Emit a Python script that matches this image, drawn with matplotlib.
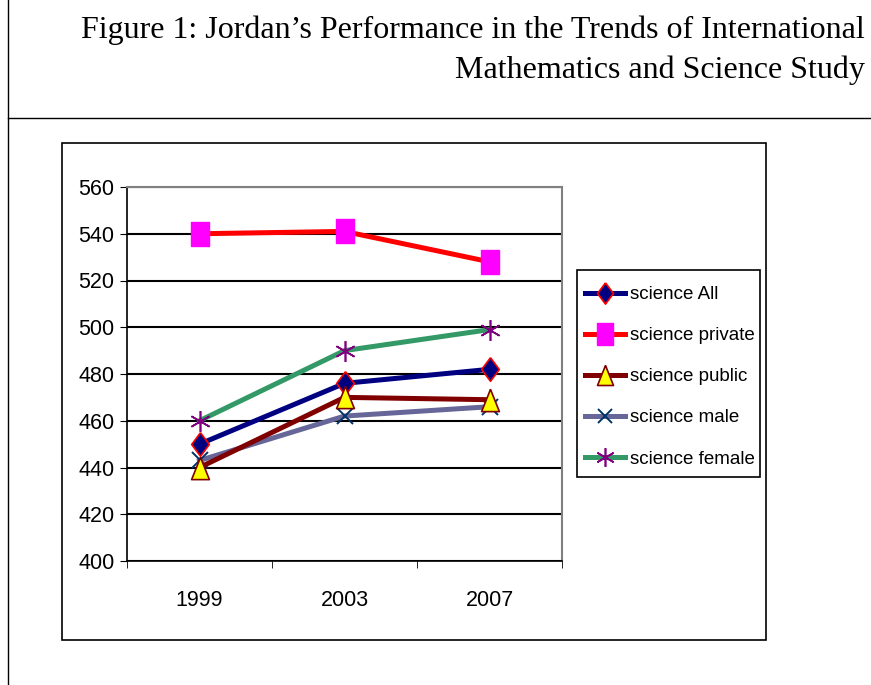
import matplotlib.pyplot as plt
from matplotlib.lines import Line2D
from matplotlib.patches import Rectangle

# data
years = ["1999", "2003", "2007"]
science_all = [450, 476, 482]
science_private = [540, 541, 528]
science_public = [440, 470, 469]
science_male = [443, 462, 466]
science_female = [460, 490, 499]
y_ticks = [400, 420, 440, 460, 480, 500, 520, 540, 560]

W, H = 871, 685
SANS = ["Liberation Sans", "DejaVu Sans"]
fig = plt.figure(figsize=(W / 100, H / 100), dpi=100)


def px(x0, y0, x1, y1):
    # pixel box -> figure fraction rect
    return [x0 / W, 1 - y1 / H, (x1 - x0) / W, (y1 - y0) / H]


# custom (tall) marker shapes like the Excel ones
tall_diamond = [(0, 1), (0.75, 0), (0, -1), (-0.75, 0), (0, 1)]
tall_square = [(-0.75, -1), (0.75, -1), (0.75, 1), (-0.75, 1), (-0.75, -1)]
tall_triangle = [(0, 1), (0.8, -1), (-0.8, -1), (0, 1)]

# outer page lines
fig.add_artist(Line2D([8 / W, 8 / W], [0, 1], color="black", lw=1))
fig.add_artist(Line2D([8 / W, 1], [1 - 118 / H, 1 - 118 / H], color="black", lw=1))

# title
fig.text(865 / W, 1 - 30 / H, "Figure 1: Jordan\u2019s Performance in the Trends of International",
         ha="right", va="center", family="Liberation Serif", fontsize=23)
fig.text(865 / W, 1 - 70 / H, "Mathematics and Science Study",
         ha="right", va="center", family="Liberation Serif", fontsize=23)

# chart frame and legend frame
fig.add_artist(Rectangle((62 / W, 1 - 640 / H), (766 - 62) / W, (640 - 143) / H,
                         transform=fig.transFigure, fill=False, ec="black", lw=1.2))
fig.add_artist(Rectangle((577 / W, 1 - 477 / H), (760 - 577) / W, (477 - 270) / H,
                         transform=fig.transFigure, fill=False, ec="black", lw=1.2))

ax = fig.add_axes(px(127, 187, 562, 561))
x = list(range(len(years)))

ax.plot(x, science_all, color="#000080", lw=3.6, marker=tall_diamond, ms=17,
        mfc="#000080", mec="#FF0000", mew=1.2, label="science All", zorder=5)
ax.plot(x, science_private, color="#FF0000", lw=3.6, marker=tall_square, ms=17,
        mfc="#FF00FF", mec="#FF00FF", label="science private", zorder=4)
ax.plot(x, science_public, color="#800000", lw=3.6, marker=tall_triangle, ms=16,
        mfc="#FFFF00", mec="#800000", mew=1.2, label="science public", zorder=6)
ax.plot(x, science_male, color="#666699", lw=3.6, marker="x", ms=11,
        mec="#003366", mew=1.4, label="science male", zorder=3)
ax.plot(x, science_female, color="#339966", lw=3.6, marker=(6, 2, 0), ms=15,
        mec="#800080", mew=1.2, label="science female", zorder=3)

ax.set_xlim(-0.5, 2.5)
ax.set_ylim(400, 560)
ax.set_yticks(y_ticks)
ax.set_yticklabels([str(v) for v in y_ticks], family=SANS, fontsize=15.5)
ax.set_xticks(x)
ax.set_xticklabels(years, family=SANS, fontsize=15.5)
ax.set_xticks([-0.5, 0.5, 1.5, 2.5], minor=True)
ax.tick_params(axis="x", which="major", length=0, pad=21)
ax.tick_params(axis="x", which="minor", length=5, direction="out", color="black")
ax.tick_params(axis="y", length=5, direction="out", color="black", pad=4)
ax.yaxis.grid(True, color="black", lw=1.5)
ax.set_axisbelow(True)
for s in ["top", "right"]:
    ax.spines[s].set_color("#808080")
    ax.spines[s].set_linewidth(1.5)
for s in ["left", "bottom"]:
    ax.spines[s].set_color("black")
    ax.spines[s].set_linewidth(1.2)

leg = fig.legend(loc="upper left", bbox_to_anchor=(585 / W, 1 - 286 / H),
                 prop={"family": SANS, "size": 13.5}, frameon=False,
                 handlelength=2.13, handletextpad=0.27, labelspacing=1.28,
                 borderpad=0, borderaxespad=0, markerscale=0.9)

fig.savefig("out.png", dpi=100)
